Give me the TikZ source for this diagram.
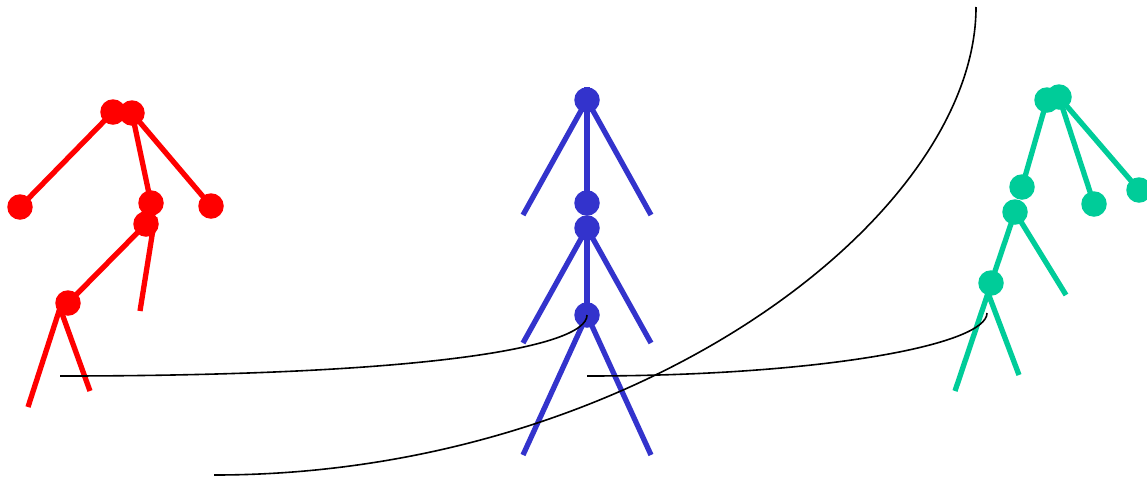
\documentclass[tikz,border=0pt]{standalone}
\begin{document}
\begin{tikzpicture}[x=1pt,y=-1pt,
  joint/.style={circle,fill=#1,draw=none,minimum size=25.5pt,inner sep=0pt},
  limb/.style={draw=#1,line width=5.3pt},
  wire/.style={draw=black,line width=1.6pt}]
\definecolor{fr}{HTML}{FF0000}
\definecolor{fb}{HTML}{3333CC}
\definecolor{fg}{HTML}{00CC99}
\useasboundingbox (0,0) rectangle (1147,480);
% red figure
\coordinate (r5s) at (155,217);
\coordinate (r5e) at (140,311);
\coordinate (rhip) at (60,308);
\coordinate (rl) at (28,407);
\coordinate (rr) at (90,391);
\path (113,112) coordinate (r1c) (132,113) coordinate (r2c)
  (20,207) coordinate (r3c) (151,203) coordinate (r4c) (211,206) coordinate (r7c)
  (146,224) coordinate (r5c) (68,303) coordinate (r6c);
\draw[limb=fr] (r1c) -- (r3c);
\draw[limb=fr] (r2c) -- (r4c);
\draw[limb=fr] (r2c) -- (r7c);
\draw[limb=fr] (r5c) -- (r6c);
\draw[limb=fr] (r5s) -- (r5e);
\draw[limb=fr] (rl) -- (rhip) -- (rr);
\node[joint=fr] (r1) at (r1c) {};
\node[joint=fr] (r2) at (r2c) {};
\node[joint=fr] (r3) at (r3c) {};
\node[joint=fr] (r4) at (r4c) {};
\node[joint=fr] (r7) at (r7c) {};
\node[joint=fr] (r5) at (r5c) {};
\node[joint=fr] (r6) at (r6c) {};
% blue figure
\coordinate (btop) at (587,87);
\path (587,100) coordinate (b1c) (587,203) coordinate (b2c)
  (587,228) coordinate (b3c) (587,315) coordinate (b4c);
\coordinate (bl1) at (523,215); \coordinate (br1) at (651,215);
\coordinate (bl2) at (523,343); \coordinate (br2) at (651,343);
\coordinate (bl3) at (523,455); \coordinate (br3) at (651,455);
\draw[limb=fb] (btop) -- (b2c);
\draw[limb=fb] (bl1) -- (b1c) -- (br1);
\draw[limb=fb] (b3c) -- (b4c);
\draw[limb=fb] (bl2) -- (b3c) -- (br2);
\draw[limb=fb] (bl3) -- (b4c) -- (br3);
\node[joint=fb] (b1) at (b1c) {};
\node[joint=fb] (b2) at (b2c) {};
\node[joint=fb] (b3) at (b3c) {};
\node[joint=fb] (b4) at (b4c) {};
% green figure
\path (1047,100) coordinate (g1c) (1059,97) coordinate (g2c)
  (1022,187) coordinate (g3c) (1094,204) coordinate (g4c) (1139,190) coordinate (g7c)
  (1015,212) coordinate (g5c) (991,283) coordinate (g6c);
\coordinate (g5e) at (1066,295);
\coordinate (ghip) at (988,293);
\coordinate (gl) at (955,391);
\coordinate (gr) at (1019,375);
\draw[limb=fg] (g1c) -- (g3c);
\draw[limb=fg] (g2c) -- (g4c);
\draw[limb=fg] (g2c) -- (g7c);
\draw[limb=fg] (g5c) -- (g6c);
\draw[limb=fg] (g5c) -- (g5e);
\draw[limb=fg] (gl) -- (ghip) -- (gr);
\node[joint=fg] (g1) at (g1c) {};
\node[joint=fg] (g2) at (g2c) {};
\node[joint=fg] (g3) at (g3c) {};
\node[joint=fg] (g4) at (g4c) {};
\node[joint=fg] (g7) at (g7c) {};
\node[joint=fg] (g5) at (g5c) {};
\node[joint=fg] (g6) at (g6c) {};
% wires
\coordinate (w1) at (60,376);
\coordinate (w2) at (587,376);
\coordinate (w3s) at (214,475);
\coordinate (w3e) at (976,7);
\coordinate (gend) at (987,313);
\draw[wire] (w1) .. controls (420,376) and (587,348) .. (b4.center);
\draw[wire] (w2) .. controls (820,376) and (987,345) .. (gend);
\draw[wire] (w3s) .. controls (635,475) and (976,217) .. (w3e);
\end{tikzpicture}
\end{document}
